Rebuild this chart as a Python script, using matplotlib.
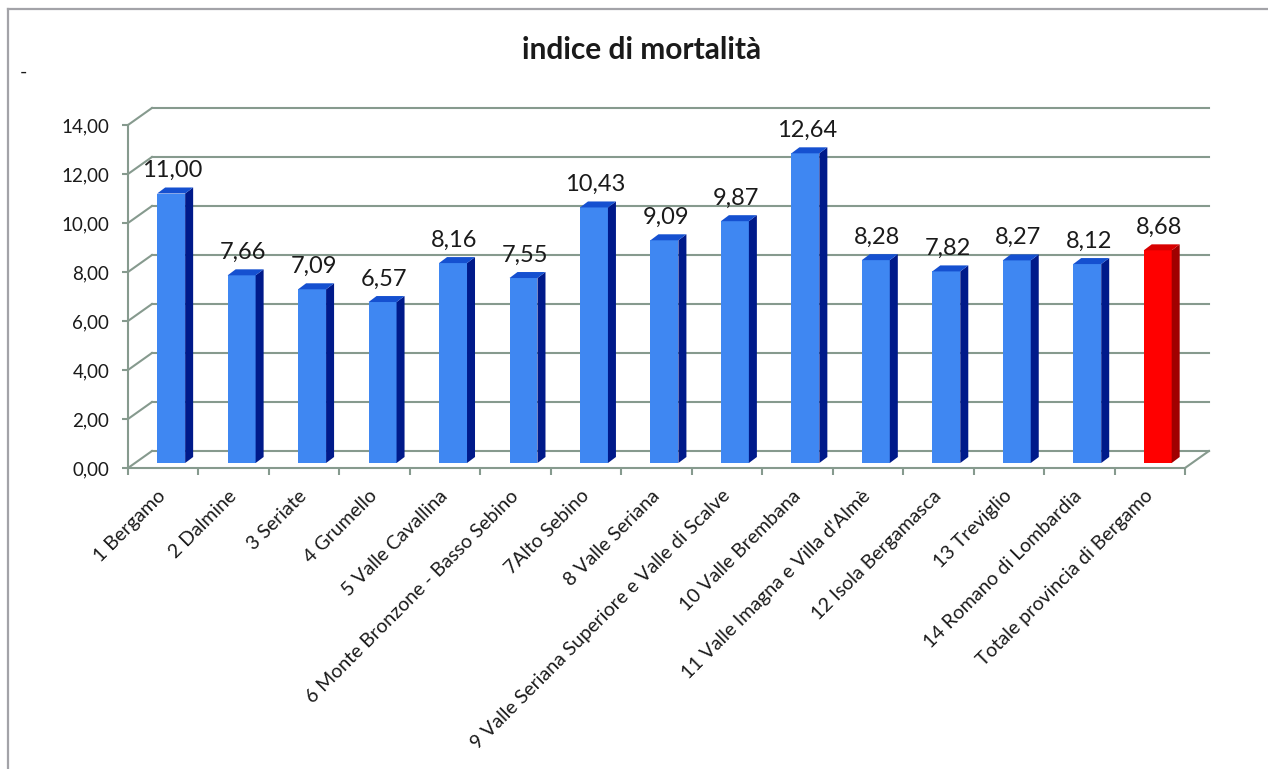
import matplotlib
matplotlib.use("Agg")
import matplotlib.pyplot as plt
from matplotlib.patches import Polygon
from matplotlib.lines import Line2D

plt.rcParams['font.family'] = ['Lato', 'DejaVu Sans']

categories = ["1 Bergamo", "2 Dalmine", "3 Seriate", "4 Grumello", "5 Valle Cavallina",
              "6 Monte Bronzone - Basso Sebino", "7Alto Sebino", "8 Valle Seriana",
              "9 Valle Seriana Superiore e Valle di Scalve", "10 Valle Brembana",
              "11 Valle Imagna e Villa d'Almè", "12 Isola Bergamasca", "13 Treviglio",
              "14 Romano di Lombardia", "Totale provincia di Bergamo"]
values = [11.00, 7.66, 7.09, 6.57, 8.16, 7.55, 10.43, 9.09, 9.87, 12.64,
          8.28, 7.82, 8.27, 8.12, 8.68]
yticks = [0, 2, 4, 6, 8, 10, 12, 14]
title = "indice di mortalità"

W_PX, H_PX = 1268, 769
fig = plt.figure(figsize=(W_PX / 100, H_PX / 100), dpi=100)

# axes placement (front plane)
left_px, right_px, y0_px, y14_px = 128, 1185, 468, 125
ax = fig.add_axes([left_px / W_PX, (H_PX - y0_px) / H_PX,
                   (right_px - left_px) / W_PX, (y0_px - y14_px) / H_PX])
n = len(values)
ax.set_xlim(0, n)
ax.set_ylim(0, 14)
ax.patch.set_visible(False)

GRID = '#869a8e'
# 3D depth offsets in data units
DX, DY = 0.34, 0.694          # full wall depth
FX, FY = 0.10, 0.204          # bar front-face offset
SDX, SDY = 0.1135, 0.245      # bar side depth
BW = 0.397
B_LEFT = 0.414

# walls / gridlines
for v in yticks:
    ax.add_line(Line2D([DX, n + DX], [v + DY, v + DY], color=GRID, lw=1.5,
                       clip_on=False, zorder=1))
    ax.add_line(Line2D([0, DX], [v, v + DY], color=GRID, lw=1.5,
                       clip_on=False, zorder=1))
ax.add_line(Line2D([n, n + DX], [0, DY], color=GRID, lw=1.5, clip_on=False, zorder=1))

for s in ['top', 'right']:
    ax.spines[s].set_visible(False)
for s in ['left', 'bottom']:
    ax.spines[s].set_color(GRID)
    ax.spines[s].set_linewidth(1.5)

# bars
for i, v in enumerate(values):
    total = (i == n - 1)
    c_front = '#ff0000' if total else '#3f87f2'
    c_side = '#a00000' if total else '#001a8a'
    c_top = '#d80000' if total else '#1550d0'
    xl = i + B_LEFT
    xr = xl + BW
    ax.bar(xl, v, width=BW, bottom=FY, align='edge', color=c_front,
           edgecolor='none', zorder=3)
    ax.add_patch(Polygon([(xr, FY), (xr + SDX, FY + SDY), (xr + SDX, FY + v + SDY),
                          (xr, FY + v)], closed=True, facecolor=c_side,
                         edgecolor='none', zorder=3, clip_on=False))
    ax.add_patch(Polygon([(xl, FY + v), (xr, FY + v), (xr + SDX, FY + v + SDY),
                          (xl + SDX, FY + v + SDY)], closed=True, facecolor=c_top,
                         edgecolor='none', zorder=3, clip_on=False))
    ax.annotate(f"{v:.2f}".replace('.', ','), xy=(xl + BW / 2 + 0.02, FY + v),
                xytext=(0, 12), textcoords='offset points', ha='center',
                va='baseline', fontsize=17, color='#1a1a1a', zorder=5,
                annotation_clip=False)

# y axis
ax.set_yticks(yticks)
ax.set_yticklabels([f"{t:.2f}".replace('.', ',') for t in yticks], fontsize=13.5,
                   color='#1a1a1a')
ax.tick_params(axis='y', direction='out', length=4.5, width=1.5, color=GRID, pad=9)

# x axis
ax.set_xticks(range(n + 1))
ax.set_xticklabels([])
ax.tick_params(axis='x', which='major', direction='out', length=5, width=1.5,
               color=GRID)
ax.set_xticks([i + 0.5 for i in range(n)], minor=True)
ax.set_xticklabels(categories, minor=True, rotation=45, ha='right',
                   rotation_mode='anchor', fontsize=14, color='#1a1a1a', va='center')
ax.tick_params(axis='x', which='minor', length=0, pad=18)

# title and decorations
fig.text(642 / W_PX, 1 - 59 / H_PX, title, ha='center', va='baseline',
         fontsize=21.5, fontweight='bold', color='#1a1a1a')
fig.text(23 / W_PX, 1 - 78 / H_PX, '-', ha='center', va='baseline', fontsize=14,
         color='#1a1a1a')

# outer border (top and left visible)
fig.add_artist(Line2D([8 / W_PX, 1], [1 - 9 / H_PX, 1 - 9 / H_PX],
                      transform=fig.transFigure, color='#a3a3a8', lw=1.6))
fig.add_artist(Line2D([8 / W_PX, 8 / W_PX], [0, 1 - 9 / H_PX],
                      transform=fig.transFigure, color='#a3a3a8', lw=1.6))

fig.savefig('out.png', dpi=100)
